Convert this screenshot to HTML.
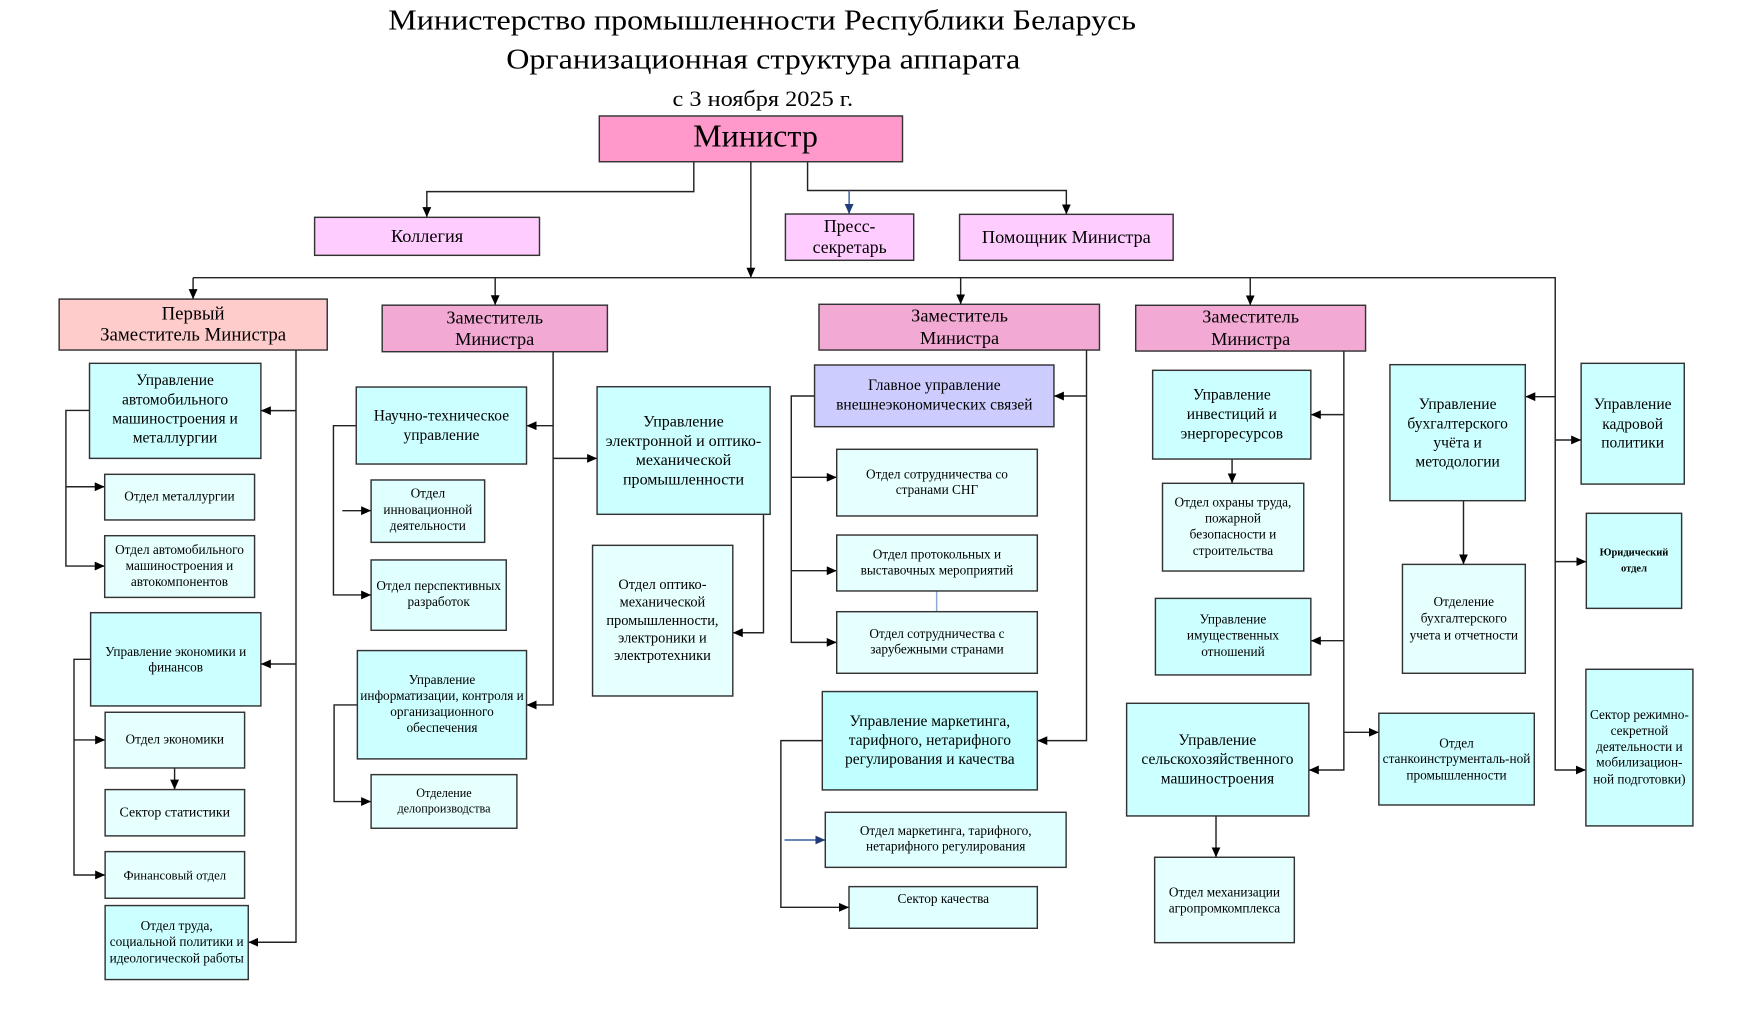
<!DOCTYPE html>
<html><head><meta charset="utf-8">
<style>
html,body{margin:0;padding:0;background:#fff;}
svg{display:block;}
text{font-family:"Liberation Serif","DejaVu Serif",serif;fill:#000;text-anchor:middle;}
.b{stroke:#333;stroke-width:1.3;}
.l{stroke:#222;stroke-width:1.3;fill:none;}
.la{stroke:#222;stroke-width:1.3;fill:none;marker-end:url(#a);}
.bl{stroke:#3a5fa0;stroke-width:1.3;fill:none;}
.bla{stroke:#3a5fa0;stroke-width:1.3;fill:none;marker-end:url(#ab);}
</style></head>
<body>
<svg width="1737" height="1018" viewBox="0 0 1568 919" preserveAspectRatio="none" xmlns="http://www.w3.org/2000/svg">
<defs>
<marker id="a" markerWidth="10" markerHeight="8" refX="9" refY="4" orient="auto" markerUnits="userSpaceOnUse"><path d="M0,0 L9,4 L0,8 z" fill="#000"/></marker>
<marker id="ab" markerWidth="10" markerHeight="8" refX="9" refY="4" orient="auto" markerUnits="userSpaceOnUse"><path d="M0,0 L9,4 L0,8 z" fill="#1f3c78"/></marker>
</defs>
<rect x="0" y="0" width="1568" height="919" fill="#fff"/>

<!-- Titles -->
<text x="688" y="26.5" font-size="26" textLength="675" lengthAdjust="spacingAndGlyphs">Министерство промышленности Республики Беларусь</text>
<text x="689" y="61.7" font-size="26" textLength="464" lengthAdjust="spacingAndGlyphs">Организационная структура аппарата</text>
<text x="688.6" y="95.7" font-size="20" textLength="163" lengthAdjust="spacingAndGlyphs">с 3 ноября 2025 г.</text>

<!-- Connectors -->
<path class="la" d="M626.3,146 V173 H385.3 V196"/>
<path class="la" d="M677.8,146 V250.7"/>
<path class="la" d="M729,146 V172 H962.6 V193.5"/>
<path class="bla" d="M766.5,172 V193.2"/>
<path class="la" d="M174.3,250.7 H1403.9 V695.1 H1431.6"/>
<path class="la" d="M174.3,250.7 V270"/>
<path class="la" d="M447,250.7 V275.5"/>
<path class="la" d="M867.2,250.7 V274.7"/>
<path class="la" d="M1128.6,250.7 V275.6"/>
<path class="la" d="M1403.9,358.1 H1376.9"/>
<path class="la" d="M1403.9,397.2 H1427.3"/>
<path class="la" d="M1403.9,507 H1432"/>
<path class="la" d="M1321.1,452 V509.5"/>

<!-- col1 -->
<path class="la" d="M267.2,316 V850.6 H224.1"/>
<path class="la" d="M267.2,370.7 H235.5"/>
<path class="la" d="M267.2,599.4 H235.5"/>
<path class="la" d="M80.8,370.5 H59.5 V511 H94.5"/>
<path class="la" d="M59.5,439.4 H94.5"/>
<path class="la" d="M81.8,595.2 H66.8 V789.9 H94.9"/>
<path class="la" d="M66.8,668 H94.9"/>
<path class="la" d="M157.6,693.3 V712.8"/>

<!-- col2 -->
<path class="la" d="M499.3,317.5 V636.4 H475.3"/>
<path class="la" d="M499.3,384.3 H475.3"/>
<path class="la" d="M499.3,413.8 H539"/>
<path class="la" d="M321.6,384.3 H301 V537.1 H335"/>
<path class="la" d="M309,461 H335"/>
<path class="la" d="M689.2,464.3 V571.2 H661.5"/>
<path class="la" d="M322.6,636.4 H301.6 V723.6 H335"/>

<!-- col3 -->
<path class="la" d="M980.8,316 V668.6 H936.4"/>
<path class="la" d="M980.8,357.5 H951.4"/>
<path class="la" d="M735.3,357.5 H714.3 V579.9 H755.3"/>
<path class="la" d="M714.3,430.9 H755.3"/>
<path class="la" d="M714.3,515.2 H755.3"/>
<path class="bl" d="M845.5,533.5 V552.2" style="stroke:#8fa8d8"/>
<path class="la" d="M742.3,668.6 H704.9 V819.1 H766.4"/>
<path class="bla" d="M708.2,758.3 H745"/>

<!-- col4 -->
<path class="la" d="M1213.1,317 V695.1 H1181.5"/>
<path class="la" d="M1213.1,374.3 H1183.3"/>
<path class="la" d="M1213.1,578.4 H1183.3"/>
<path class="la" d="M1213.1,661.1 H1244.7"/>
<path class="la" d="M1112.2,414.4 V436.3"/>
<path class="la" d="M1097.7,736.6 V773.9"/>

<!-- Top boxes -->
<rect class="b" x="541" y="104.7" width="273.7" height="41.3" fill="#ff99cc"/>
<text x="682" y="132.4" font-size="29">Министр</text>
<rect class="b" x="284" y="196.2" width="203" height="34.3" fill="#ffccff"/>
<text x="385.5" y="218.5" font-size="16.5">Коллегия</text>
<rect class="b" x="709" y="193.2" width="115.8" height="41.8" fill="#ffccff"/>
<text x="767" y="209.5" font-size="16">Пресс-</text>
<text x="767" y="228.5" font-size="16">секретарь</text>
<rect class="b" x="866.2" y="193.5" width="192.8" height="41.5" fill="#ffccff"/>
<text x="962.6" y="219.5" font-size="16.5">Помощник Министра</text>

<rect class="b" x="53.4" y="270" width="242" height="46" fill="#ffcccc"/>
<text x="174.3" y="288.3" font-size="17">Первый</text>
<text x="174.3" y="307.5" font-size="17">Заместитель Министра</text>
<rect class="b" x="345" y="275.5" width="203.3" height="42" fill="#f2a9d4"/>
<text x="446.6" y="291.9" font-size="16.5">Заместитель</text>
<text x="446.6" y="311.4" font-size="16.5">Министра</text>
<rect class="b" x="739.3" y="274.7" width="253.2" height="41.3" fill="#f2a9d4"/>
<text x="866.2" y="290.4" font-size="16.5">Заместитель</text>
<text x="866.2" y="310.6" font-size="16.5">Министра</text>
<rect class="b" x="1025.2" y="275.6" width="207.5" height="41.3" fill="#f2a9d4"/>
<text x="1129" y="291.3" font-size="16.5">Заместитель</text>
<text x="1129" y="311.5" font-size="16.5">Министра</text>

<!-- Column 1 -->
<rect class="b" x="80.8" y="328" width="154.7" height="85.8" fill="#ccffff"/>
<text x="158" y="347.6" font-size="14">Управление</text>
<text x="158" y="365" font-size="14">автомобильного</text>
<text x="158" y="382.2" font-size="14">машиностроения и</text>
<text x="158" y="399.6" font-size="14">металлургии</text>
<rect class="b" x="94.5" y="428.2" width="135.3" height="41.2" fill="#e6ffff"/>
<text x="162" y="452" font-size="12">Отдел металлургии</text>
<rect class="b" x="94.5" y="483.6" width="135.3" height="55.7" fill="#e6ffff"/>
<text x="162" y="500.1" font-size="12">Отдел автомобильного</text>
<text x="162" y="514.6" font-size="12">машиностроения и</text>
<text x="162" y="529" font-size="12">автокомпонентов</text>
<rect class="b" x="81.8" y="553.1" width="153.7" height="84.2" fill="#ccffff"/>
<text x="158.6" y="592.1" font-size="12">Управление экономики и</text>
<text x="158.6" y="606.3" font-size="12">финансов</text>
<rect class="b" x="94.9" y="643" width="125.9" height="50.3" fill="#e6ffff"/>
<text x="157.8" y="671" font-size="12">Отдел экономики</text>
<rect class="b" x="94.9" y="712.8" width="125.9" height="41.8" fill="#e6ffff"/>
<text x="157.8" y="737.2" font-size="12.5">Сектор статистики</text>
<rect class="b" x="94.9" y="768.8" width="125.9" height="42.1" fill="#e6ffff"/>
<text x="157.8" y="793.8" font-size="11.5">Финансовый отдел</text>
<rect class="b" x="94.9" y="817.5" width="129.2" height="66.8" fill="#ccffff"/>
<text x="159.5" y="839.5" font-size="12">Отдел труда,</text>
<text x="159.5" y="854" font-size="12">социальной политики и</text>
<text x="159.5" y="869" font-size="12">идеологической работы</text>

<!-- Column 2 -->
<rect class="b" x="321.6" y="349.4" width="153.7" height="69.5" fill="#ccffff"/>
<text x="398.5" y="379.8" font-size="14">Научно-техническое</text>
<text x="398.5" y="397.2" font-size="14">управление</text>
<rect class="b" x="335" y="433.3" width="102.5" height="56.3" fill="#e0ffff"/>
<text x="386.2" y="449.3" font-size="12">Отдел</text>
<text x="386.2" y="464" font-size="12">инновационной</text>
<text x="386.2" y="478.5" font-size="12">деятельности</text>
<rect class="b" x="335" y="505.5" width="122" height="63.5" fill="#e0ffff"/>
<text x="396" y="532.6" font-size="12">Отдел перспективных</text>
<text x="396" y="547" font-size="12">разработок</text>
<rect class="b" x="539" y="349.1" width="156.2" height="115.2" fill="#ccffff"/>
<text x="617" y="385.2" font-size="14.5">Управление</text>
<text x="617" y="402.6" font-size="14.5">электронной и оптико-</text>
<text x="617" y="419.8" font-size="14.5">механической</text>
<text x="617" y="437.2" font-size="14.5">промышленности</text>
<rect class="b" x="534.9" y="492.3" width="126.6" height="136" fill="#e6ffff"/>
<text x="598" y="531.7" font-size="13">Отдел  оптико-</text>
<text x="598" y="547.7" font-size="13">механической</text>
<text x="598" y="564.2" font-size="13">промышленности,</text>
<text x="598" y="580.2" font-size="13">электроники и</text>
<text x="598" y="595.8" font-size="13">электротехники</text>
<rect class="b" x="322.6" y="587.3" width="152.7" height="97.8" fill="#ccffff"/>
<text x="399" y="617.4" font-size="12">Управление</text>
<text x="399" y="631.9" font-size="12">информатизации, контроля и</text>
<text x="399" y="646.3" font-size="12">организационного</text>
<text x="399" y="660.8" font-size="12">обеспечения</text>
<rect class="b" x="335" y="699.3" width="131.6" height="48.4" fill="#e6ffff"/>
<text x="400.8" y="719.7" font-size="11">Отделение</text>
<text x="400.8" y="733.6" font-size="11">делопроизводства</text>

<!-- Column 3 -->
<rect class="b" x="735.3" y="329.5" width="216.1" height="55.7" fill="#ccccff"/>
<text x="843.4" y="352.1" font-size="14">Главное управление</text>
<text x="843.4" y="369.5" font-size="14">внешнеэкономических связей</text>
<rect class="b" x="755.3" y="405.6" width="181.1" height="60.2" fill="#e6ffff"/>
<text x="845.8" y="431.8" font-size="12">Отдел сотрудничества со</text>
<text x="845.8" y="446" font-size="12">странами СНГ</text>
<rect class="b" x="755.3" y="483" width="181.1" height="50.5" fill="#e6ffff"/>
<text x="845.8" y="504" font-size="12">Отдел протокольных и</text>
<text x="845.8" y="518.5" font-size="12">выставочных мероприятий</text>
<rect class="b" x="755.3" y="552.2" width="181.1" height="55.6" fill="#e6ffff"/>
<text x="845.8" y="576" font-size="12">Отдел сотрудничества с</text>
<text x="845.8" y="590" font-size="12">зарубежными странами</text>
<rect class="b" x="742.3" y="624.3" width="194.1" height="88.8" fill="#bfffff"/>
<text x="839.4" y="655.3" font-size="14">Управление маркетинга,</text>
<text x="839.4" y="672.5" font-size="14">тарифного, нетарифного</text>
<text x="839.4" y="689.6" font-size="14">регулирования и качества</text>
<rect class="b" x="745" y="733.3" width="217.4" height="49.7" fill="#e0ffff"/>
<text x="853.7" y="753.7" font-size="12">Отдел маркетинга, тарифного,</text>
<text x="853.7" y="767.9" font-size="12">нетарифного регулирования</text>
<rect class="b" x="766.4" y="800.4" width="170" height="37.6" fill="#e0ffff"/>
<text x="851.5" y="815.4" font-size="12">Сектор качества</text>

<!-- Column 4 -->
<rect class="b" x="1040.5" y="334.3" width="142.8" height="80.1" fill="#ccffff"/>
<text x="1112" y="360.5" font-size="14">Управление</text>
<text x="1112" y="378.3" font-size="14">инвестиций и</text>
<text x="1112" y="396" font-size="14">энергоресурсов</text>
<rect class="b" x="1049.4" y="436.3" width="127.5" height="79.2" fill="#e6ffff"/>
<text x="1113" y="457.4" font-size="12">Отдел  охраны труда,</text>
<text x="1113" y="471.6" font-size="12">пожарной</text>
<text x="1113" y="486" font-size="12">безопасности и</text>
<text x="1113" y="501" font-size="12">строительства</text>
<rect class="b" x="1043" y="540.2" width="140.3" height="69.1" fill="#ccffff"/>
<text x="1113" y="563" font-size="12">Управление</text>
<text x="1113" y="577.5" font-size="12">имущественных</text>
<text x="1113" y="592" font-size="12">отношений</text>
<rect class="b" x="1017" y="634.9" width="164.5" height="101.7" fill="#ccffff"/>
<text x="1099" y="672.5" font-size="14">Управление</text>
<text x="1099" y="689.6" font-size="14">сельскохозяйственного</text>
<text x="1099" y="707.1" font-size="14">машиностроения</text>
<rect class="b" x="1244.7" y="643.9" width="140.3" height="82.8" fill="#ccffff"/>
<text x="1314.8" y="674.6" font-size="12">Отдел</text>
<text x="1314.8" y="689" font-size="12">станкоинструменталь-ной</text>
<text x="1314.8" y="703.5" font-size="12">промышленности</text>
<rect class="b" x="1042.3" y="773.9" width="126.1" height="77.1" fill="#e6ffff"/>
<text x="1105.3" y="809.4" font-size="12">Отдел механизации</text>
<text x="1105.3" y="823.9" font-size="12">агропромкомплекса</text>

<!-- Column 5 -->
<rect class="b" x="1254.7" y="329.2" width="122.2" height="122.8" fill="#ccffff"/>
<text x="1315.8" y="369.2" font-size="14">Управление</text>
<text x="1315.8" y="386.7" font-size="14">бухгалтерского</text>
<text x="1315.8" y="403.8" font-size="14">учёта и</text>
<text x="1315.8" y="421.3" font-size="14">методологии</text>
<rect class="b" x="1266" y="509.5" width="110.9" height="98.3" fill="#e6ffff"/>
<text x="1321.4" y="547.1" font-size="12">Отделение</text>
<text x="1321.4" y="562.1" font-size="12">бухгалтерского</text>
<text x="1321.4" y="577.2" font-size="12">учета и отчетности</text>
<rect class="b" x="1427.3" y="328" width="93.1" height="109" fill="#ccffff"/>
<text x="1473.8" y="369.2" font-size="14">Управление</text>
<text x="1473.8" y="387.3" font-size="14">кадровой</text>
<text x="1473.8" y="403.8" font-size="14">политики</text>
<rect class="b" x="1432" y="463.4" width="86" height="85.8" fill="#ccffff"/>
<text x="1475" y="501.6" font-size="9.5" font-weight="bold">Юридический</text>
<text x="1475" y="516.1" font-size="9.5" font-weight="bold">отдел</text>
<rect class="b" x="1431.6" y="604.2" width="96.6" height="141.4" fill="#ccffff"/>
<text x="1479.9" y="649.3" font-size="12">Сектор режимно-</text>
<text x="1479.9" y="663.5" font-size="12">секретной</text>
<text x="1479.9" y="677.9" font-size="12">деятельности и</text>
<text x="1479.9" y="692.1" font-size="12">мобилизацион-</text>
<text x="1479.9" y="707.1" font-size="12">ной подготовки)</text>
</svg>
</body></html>
